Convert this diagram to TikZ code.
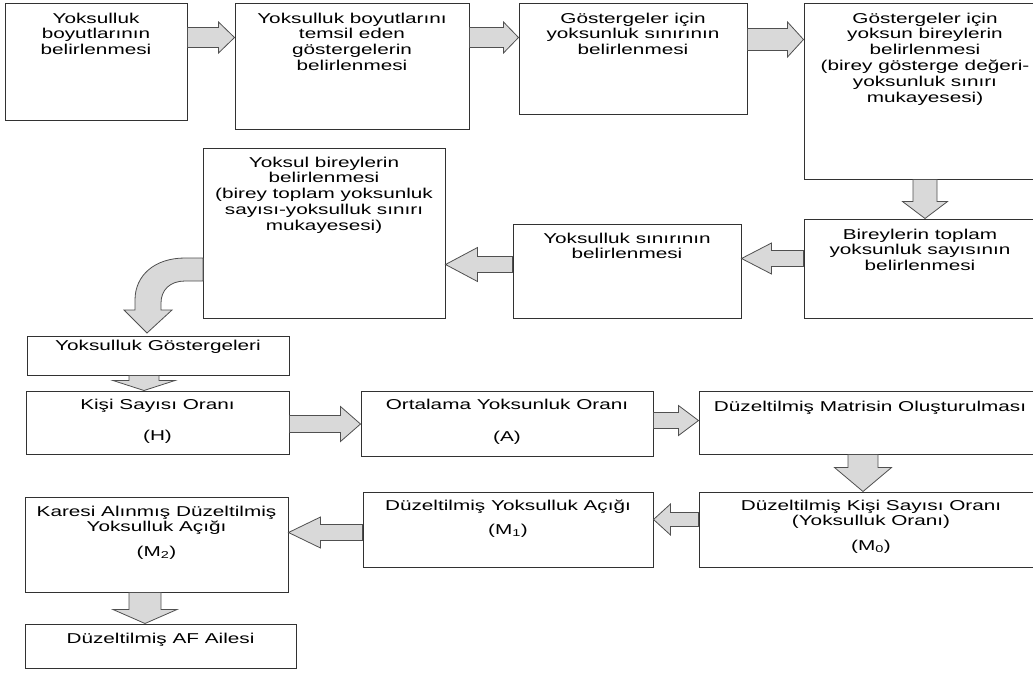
\documentclass[tikz,border=0pt]{standalone}
\usepackage{fontspec}
\setmainfont{Liberation Sans}[FakeStretch=1.45]
\usetikzlibrary{calc}
\definecolor{kenar}{RGB}{50,50,50}
\definecolor{okkenar}{RGB}{80,80,80}
\definecolor{okdolgu}{RGB}{217,217,217}

\begin{document}
\begin{tikzpicture}[x=1pt, y=-1pt,
  kutu/.style={draw=kenar, line width=1pt, inner sep=0pt},
  yazi/.style={anchor=north, align=center, inner sep=0pt, font=\fontsize{14.3}{15.8}\selectfont},
  ok/.style={draw=okkenar, fill=okdolgu, line width=0.8pt, line join=miter},
  % block arrows: {half shaft}{half head}{head length}
  sagok/.style n args={3}{to path={let \p1=(\tikztostart), \p2=(\tikztotarget) in
    (\x1,{\y1+#1pt}) -- ({\x2-#3pt},{\y1+#1pt}) -- ({\x2-#3pt},{\y1+#2pt}) -- (\x2,\y1)
    -- ({\x2-#3pt},{\y1-#2pt}) -- ({\x2-#3pt},{\y1-#1pt}) -- (\x1,{\y1-#1pt}) -- cycle}},
  solok/.style n args={3}{to path={let \p1=(\tikztostart), \p2=(\tikztotarget) in
    (\x1,{\y1+#1pt}) -- ({\x2+#3pt},{\y1+#1pt}) -- ({\x2+#3pt},{\y1+#2pt}) -- (\x2,\y1)
    -- ({\x2+#3pt},{\y1-#2pt}) -- ({\x2+#3pt},{\y1-#1pt}) -- (\x1,{\y1-#1pt}) -- cycle}},
  asagiok/.style n args={3}{to path={let \p1=(\tikztostart), \p2=(\tikztotarget) in
    ({\x1+#1pt},\y1) -- ({\x1+#1pt},{\y2+#3pt}) -- ({\x1+#2pt},{\y2+#3pt}) -- (\x1,\y2)
    -- ({\x1-#2pt},{\y2+#3pt}) -- ({\x1-#1pt},{\y2+#3pt}) -- ({\x1-#1pt},\y1) -- cycle}}]
  \clip (0,0) rectangle (1033,675);

  % first row
  \node[kutu, minimum width=182pt, minimum height=117pt] (boyut) at (96,61.5) {};
  \node[yazi] (boyut-y) at ([yshift=-10pt]boyut.north) {Yoksulluk\\boyutlarının\\belirlenmesi};

  \node[kutu, minimum width=234pt, minimum height=126pt] (temsil) at (352,66) {};
  \node[yazi] (temsil-y) at ([yshift=-10pt]temsil.north) {Yoksulluk boyutlarını\\temsil eden\\göstergelerin\\belirlenmesi};

  \node[kutu, minimum width=228pt, minimum height=111pt] (sinir) at (633,58.5) {};
  \node[yazi] (sinir-y) at ([yshift=-10pt]sinir.north) {Göstergeler için\\yoksunluk sınırının\\belirlenmesi};

  \node[kutu, minimum width=242pt, minimum height=176pt] (yoksun) at (925,91) {};
  \node[yazi] (yoksun-y) at ([yshift=-10pt]yoksun.north) {Göstergeler için\\yoksun bireylerin\\belirlenmesi\\(birey gösterge değeri-\\yoksunluk sınırı\\mukayesesi)};

  % second row
  \node[kutu, minimum width=232pt, minimum height=99pt] (toplam) at (920,268.5) {};
  \node[yazi] (toplam-y) at ([yshift=-10pt]toplam.north) {Bireylerin toplam\\yoksunluk sayısının\\belirlenmesi};

  \node[kutu, minimum width=228pt, minimum height=94pt] (ysinir) at (627,271) {};
  \node[yazi] (ysinir-y) at ([yshift=-9pt]ysinir.north) {Yoksulluk sınırının\\belirlenmesi};

  \node[kutu, minimum width=242pt, minimum height=170pt] (yoksul) at (324,233) {};
  \node[yazi] (yoksul-y) at ([yshift=-9pt]yoksul.north) {Yoksul bireylerin\\belirlenmesi\\(birey toplam yoksunluk\\sayısı-yoksulluk sınırı\\mukayesesi)};

  % indicators
  \node[kutu, minimum width=262pt, minimum height=39pt] (gost) at (158,355.5) {};
  \node[yazi] (gost-y) at ([yshift=-4pt]gost.north) {Yoksulluk Göstergeleri};

  \node[kutu, minimum width=263pt, minimum height=63pt] (kisi) at (157.5,422.5) {};
  \node[yazi] (kisi-y) at ([yshift=-8pt]kisi.north) {Kişi Sayısı Oranı\\[15.8pt](H)};

  \node[kutu, minimum width=292pt, minimum height=65pt] (ort) at (507,423.5) {};
  \node[yazi] (ort-y) at ([yshift=-8pt]ort.north) {Ortalama Yoksunluk Oranı\\[17pt](A)};

  \node[kutu, minimum width=342pt, minimum height=63pt] (matris) at (870,422.5) {};
  \node[yazi] (matris-y) at ([yshift=-10pt]matris.north) {Düzeltilmiş Matrisin Oluşturulması};

  \node[kutu, minimum width=344pt, minimum height=75pt] (dkisi) at (871,529.5) {};
  \node[yazi] (dkisi-y) at ([yshift=-8pt]dkisi.north) {Düzeltilmiş Kişi Sayısı Oranı\\(Yoksulluk Oranı)\\[9pt](M\textsubscript{0})};

  \node[kutu, minimum width=290pt, minimum height=75pt] (dacik) at (508,529.5) {};
  \node[yazi] (dacik-y) at ([yshift=-8pt]dacik.north) {Düzeltilmiş Yoksulluk Açığı\\[8.5pt](M\textsubscript{1})};

  \node[kutu, minimum width=263pt, minimum height=95pt] (kare) at (156.5,544.5) {};
  \node[yazi] (kare-y) at ([yshift=-9pt]kare.north) {Karesi Alınmış Düzeltilmiş\\Yoksulluk Açığı\\[8.5pt](M\textsubscript{2})};

  \node[kutu, minimum width=271pt, minimum height=44pt] (af) at (160.5,646) {};
  \node[yazi] (af-y) at ([yshift=-9pt]af.north) {Düzeltilmiş AF Ailesi};

  % block arrows
  \draw[ok] ([yshift=-35pt]boyut.north east) to[sagok={10}{15.5}{16}] (temsil.west);
  \draw[ok] ([yshift=-35pt]temsil.north east) to[sagok={10}{15.5}{15}] (sinir.west);
  \draw[ok] ([yshift=-37pt]sinir.north east) to[sagok={11}{17.5}{16}] (yoksun.west);
  \draw[ok] (yoksun.south) to[asagiok={12}{22.5}{17}] (toplam.north);
  \draw[ok] ([yshift=-40pt]toplam.north west) to[solok={8}{15.5}{30}] (ysinir.east);
  \draw[ok] ([yshift=-41pt]ysinir.north west) to[solok={8}{17}{32}] (yoksul.east);
  % bent arrow
  \draw[ok] (203,258) -- (185,258) .. controls (155,258) and (135,275) .. (135,300)
    -- (135,310) -- (124,310) -- (147,333) -- (172,310) -- (161,310) -- (161,303)
    .. controls (161,290) and (170,281) .. (185,281) -- (203,281) -- cycle;
  \draw[ok] ([xshift=-14pt]gost.south) to[asagiok={15}{31}{10}] (kisi.north);
  \draw[ok] ([yshift=-33.5pt]kisi.north east) to[sagok={8.5}{17.5}{20}] (ort.west);
  \draw[ok] ([yshift=-30pt]ort.north east) to[sagok={8}{15}{20}] (matris.west);
  \draw[ok] ([xshift=-7pt]matris.south) to[asagiok={15}{28.5}{24}] (dkisi.north);
  \draw[ok] ([yshift=-28pt]dkisi.north west) to[solok={7}{15.5}{17}] (dacik.east);
  \draw[ok] ([yshift=-41pt]dacik.north west) to[solok={8}{15.5}{32}] (kare.east);
  \draw[ok] ([xshift=-11.5pt]kare.south) to[asagiok={16}{32}{14}] (af.north);
\end{tikzpicture}
\end{document}
